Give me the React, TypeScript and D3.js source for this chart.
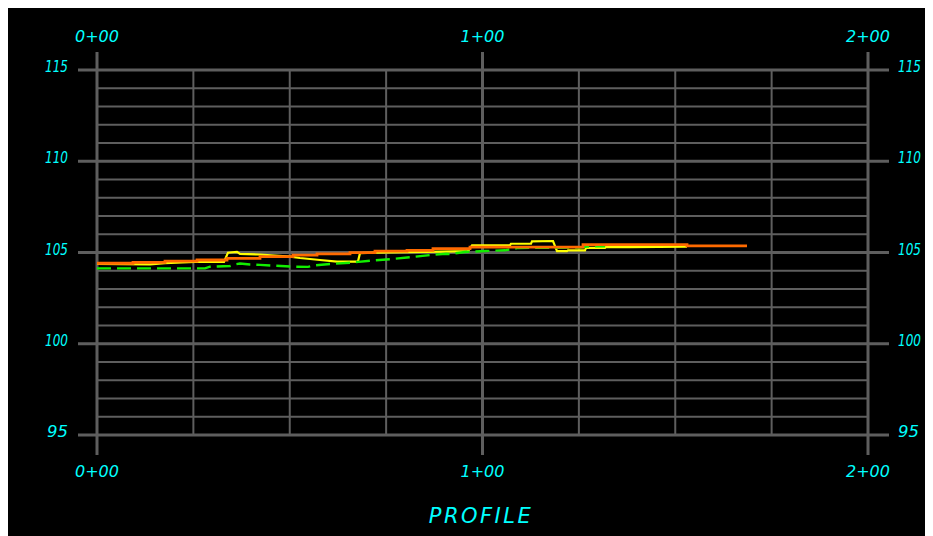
import React from "react";
import * as d3 from "d3";

// Station ticks (ft) and labels
const stationTicks = [0, 100, 200];
const stationLabels = ["0+00", "1+00", "2+00"];
const minorStations = [0, 25, 50, 75, 100, 125, 150, 175, 200];
// Elevation ticks
const elevTicks = [95, 100, 105, 110, 115];
const elevMinor = d3.range(95, 116, 1);

// Profile series: [station, elevation]
const orangeProfile: [number, number][] = [
  [0, 104.41], [9.34, 104.46], [17.64, 104.53], [25.94, 104.59], [33.72, 104.68],
  [42.28, 104.77], [50.84, 104.86], [57.07, 104.93], [65.63, 104.99], [72.11, 105.07],
  [80.42, 105.12], [87.16, 105.21], [96.76, 105.3], [126.07, 105.43], [153.05, 105.36],
  [168.61, 105.36],
];
const yellowProfile: [number, number][] = [
  [0, 104.37], [13.75, 104.35], [17.64, 104.42], [25.4, 104.48], [32.94, 104.48],
  [33.98, 104.99], [36.32, 105.03], [37.1, 104.92], [42.28, 104.89], [50.06, 104.77],
  [52.66, 104.7], [57.85, 104.59], [62.26, 104.5], [67.7, 104.5], [68.22, 104.97],
  [72.11, 104.99], [89.49, 105.05], [96.24, 105.08], [97.28, 105.39], [107.13, 105.39],
  [107.39, 105.48], [112.58, 105.48], [112.84, 105.61], [118.29, 105.63], [119.33, 105.07],
  [121.92, 105.07], [122.18, 105.12], [126.59, 105.12], [126.85, 105.25], [131.78, 105.25],
  [132.04, 105.3], [138.26, 105.3], [153.05, 105.32],
];
const greenProfile: [number, number][] = [
  [0, 104.13], [28.02, 104.13], [29.31, 104.22], [34.5, 104.26], [35.8, 104.35],
  [37.1, 104.4], [39.69, 104.34], [42.28, 104.32], [51.36, 104.22], [54.73, 104.21],
  [56.55, 104.3], [60.44, 104.37], [65.63, 104.44], [70.82, 104.55], [76.0, 104.63],
  [81.19, 104.74], [86.38, 104.86], [90.53, 104.93], [91.57, 104.92], [95.46, 105.03],
  [100.65, 105.08], [105.84, 105.12], [109.21, 105.25], [118.81, 105.26], [125.29, 105.27],
  [127.11, 105.33], [131.78, 105.34],
];

const W = 925;
const H = 528;
const GRID = "#5e5e5e";
const CYAN = "#00ffff";
const FONT = "DejaVu Sans, sans-serif";

export default function App() {
  const x = d3.scaleLinear().domain([0, 200]).range([89, 860]);
  const y = d3.scaleLinear().domain([95, 115]).range([427, 62]);

  const stepLine = d3
    .line<[number, number]>()
    .x((d) => x(d[0]))
    .y((d) => y(d[1]))
    .curve(d3.curveStepAfter);
  const polyLine = d3
    .line<[number, number]>()
    .x((d) => x(d[0]))
    .y((d) => y(d[1]));

  const [x0, x1] = x.range();
  const yTop = y(115);
  const yBot = y(95);
  const labelLen = (e: number) => (String(e).length === 3 ? 23 : 21);

  return (
    <>
      <style>{"html,body{overflow:hidden;}"}</style>
      <svg width={W} height={H} style={{ display: "block", background: "#000" }}>
        <rect width={W} height={H} fill="#000" />
        {/* horizontal grid */}
        {elevMinor.map((e) => {
          const major = elevTicks.includes(e);
          return (
            <line
              key={"h" + e}
              x1={major ? x0 - 19 : x0}
              x2={major ? x1 + 21 : x1}
              y1={y(e)}
              y2={y(e)}
              stroke={GRID}
              strokeWidth={major ? 3 : 2}
            />
          );
        })}
        {/* vertical grid */}
        {minorStations.map((s) => {
          const major = stationTicks.includes(s);
          return (
            <line
              key={"v" + s}
              x1={x(s)}
              x2={x(s)}
              y1={major ? yTop - 18 : yTop}
              y2={major ? yBot + 20 : yBot}
              stroke={GRID}
              strokeWidth={major ? 3 : 2}
            />
          );
        })}
        {/* profiles */}
        <path d={polyLine(yellowProfile) || ""} fill="none" stroke="#ffff00" strokeWidth={2.2} />
        <path
          d={polyLine(greenProfile) || ""}
          fill="none"
          stroke="#11ee00"
          strokeWidth={2.4}
          strokeDasharray="14,6"
        />
        <path d={stepLine(orangeProfile) || ""} fill="none" stroke="#ff6a00" strokeWidth={2.8} />
        {/* elevation labels */}
        {elevTicks.map((e) => (
          <g key={"l" + e} fill={CYAN} fontFamily={FONT} fontStyle="italic" fontSize={15}>
            <text
              x={60 - labelLen(e)}
              y={y(e) + 2}
              textLength={labelLen(e)}
              lengthAdjust="spacingAndGlyphs"
            >
              {e}
            </text>
            <text x={890} y={y(e) + 2} textLength={labelLen(e)} lengthAdjust="spacingAndGlyphs">
              {e}
            </text>
          </g>
        ))}
        {/* station labels */}
        {stationTicks.map((s, i) => (
          <g key={"s" + s} fill={CYAN} fontFamily={FONT} fontStyle="italic" fontSize={16}>
            <text x={x(s)} y={34} textAnchor="middle">
              {stationLabels[i]}
            </text>
            <text x={x(s)} y={469} textAnchor="middle">
              {stationLabels[i]}
            </text>
          </g>
        ))}
        <text
          x={473}
          y={515}
          textAnchor="middle"
          fill={CYAN}
          fontFamily={FONT}
          fontStyle="italic"
          fontSize={21}
          letterSpacing={2.5}
        >
          PROFILE
        </text>
      </svg>
    </>
  );
}
